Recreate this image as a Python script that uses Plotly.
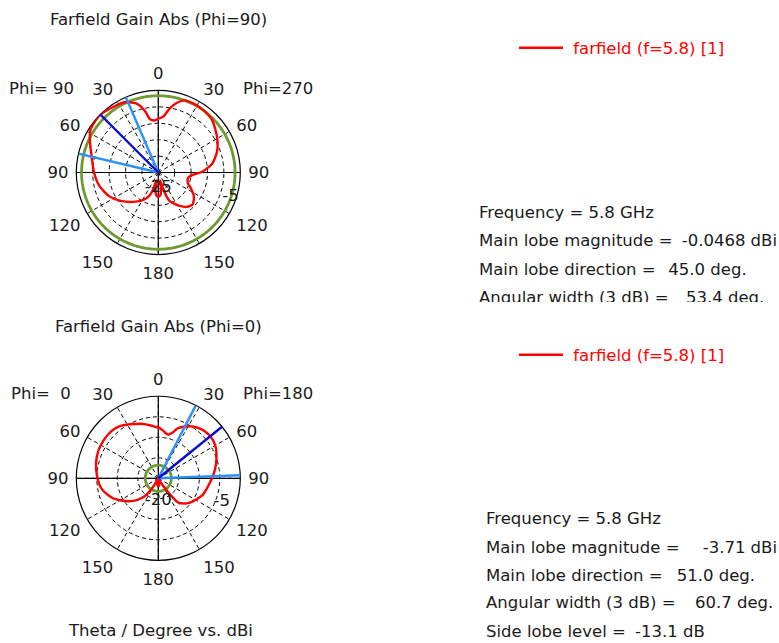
import numpy as np
import plotly.graph_objects as go

# ---------------- data ----------------
# Plot angle (deg, clockwise from top). Right half = theta on the right-hand phi cut,
# left half = 360 - theta on the left-hand phi cut.
top_theta = [0, 5, 10, 15, 20, 28, 35, 40, 45, 53, 63, 71, 81, 89, 94, 101, 110, 116, 124, 133,
             141, 150, 155, 158, 161, 164, 167, 171, 175, 180, 185, 189, 193, 197, 201, 208, 220,
             233, 244, 257, 270, 282, 294, 302, 310, 315, 325, 335, 343, 348, 351, 356, 360]
top_gain = [-8.6, -7.9, -5.2, -3.0, -1.6, -1.4, -1.5, -1.7, -2.0, -3.2, -4.7, -6.1, -8.4, -11.6,
            -14.5, -15.8, -15.4, -13.9, -11.9, -10.7, -11.5, -13.5, -14.8, -15.5, -17.3, -20.5,
            -22.5, -19.5, -18.0, -17.6, -18.0, -19.5, -22.5, -19.5, -17.5, -15.6, -13.3, -10.6,
            -8.4, -6.6, -5.4, -4.3, -2.2, -0.6, -0.15, -0.05, -0.7, -1.3, -3.1, -6.0, -8.5, -9.1,
            -8.6]

bot_theta = [0, 5, 10, 13, 17, 21, 26, 33, 40, 45, 51, 57, 63, 70, 75, 80, 85, 90, 99, 105, 110,
             118, 125, 131, 136, 140, 143, 146, 150, 155, 165, 172, 180, 188, 195, 205, 210, 213,
             217, 224, 232, 239, 245, 251, 256, 262, 271, 283, 295, 305, 312, 319, 325, 330, 336,
             342, 347, 351, 356, 360]
bot_gain = [-7.6, -8.2, -8.9, -9.1, -8.4, -7.0, -6.0, -4.9, -4.2, -3.85, -3.71, -3.8, -4.2, -4.9,
            -5.4, -5.9, -6.4, -6.9, -7.7, -8.1, -8.4, -9.3, -10.0, -10.7, -11.5, -12.2, -14.2,
            -17.0, -19.5, -20.0, -19.3, -18.4, -18.0, -18.4, -19.3, -20.0, -19.0, -16.5, -14.5,
            -12.7, -10.9, -9.5, -8.2, -7.2, -6.4, -5.7, -5.1, -4.4, -3.9, -3.75, -3.75, -3.9,
            -4.3, -4.9, -5.5, -6.0, -6.5, -6.9, -7.4, -7.6]

# scale (dBi): centre value, rim value, ring values
top_range = [-25, 0]
bot_range = [-20, 0]
top_rings = [-20, -15, -10, -5]
bot_rings = [-15, -10, -5]

# main lobe / 3 dB / side lobe markers (plot angles, dBi)
top_main_dir = 315          # theta 45 on the Phi=90 side
top_3db_dirs = [283.3, 336.7]
top_sidelobe = -1.6
bot_main_dir = 51.0
bot_3db_dirs = [27.2, 87.9]
bot_sidelobe = -3.71 - 13.1

angle_ticks = [0, 30, 60, 90, 120, 150, 180, 210, 240, 270, 300, 330]
angle_labels = ["0", "30", "60", "90", "120", "150", "180", "150", "120", "90", "60", "30"]

top_info = ["Frequency = 5.8 GHz", "Main lobe magnitude =", "Main lobe direction =",
            "Angular width (3 dB) ="]
top_vals = ["", "-0.0468 dBi", "45.0 deg.", "53.4 deg."]
bot_info = ["Frequency = 5.8 GHz", "Main lobe magnitude =", "Main lobe direction =",
            "Angular width (3 dB) =", "Side lobe level ="]
bot_vals = ["", "-3.71 dBi", "51.0 deg.", "60.7 deg.", "-13.1 dB"]

legend_name = "\u00a0farfield (f=5.8) [1]"

# ---------------- styling ----------------
W, H = 779, 643
FONT = "DejaVu Sans"
FS = 16.5
TXT = "#1a1a1a"
RED = "#ff0000"
GREEN = "#6f9a2f"
BLUE = "#0a0ad2"
LBLUE = "#2a90ff"

def px(x):
    return x / W

def py(y):
    return 1 - y / H

fig = go.Figure()

def add_polar(sub, theta, gain, rng, main_dir, db3, side, legend):
    lo, hi = rng
    # solid cross axes
    fig.add_trace(go.Scatterpolar(r=[hi, lo, hi, None, hi, lo, hi],
                                  theta=[0, 0, 180, None, 90, 90, 270],
                                  mode="lines", line=dict(color="black", width=1.2),
                                  subplot=sub, showlegend=False, hoverinfo="skip"))
    # side lobe level circle
    circ = np.linspace(0, 360, 361)
    fig.add_trace(go.Scatterpolar(r=[side] * len(circ), theta=circ, mode="lines",
                                  line=dict(color=GREEN, width=2.8), subplot=sub,
                                  showlegend=False, hoverinfo="skip"))
    # pattern
    fig.add_trace(go.Scatterpolar(r=gain, theta=theta, mode="lines",
                                  line=dict(color=RED, width=2.4, shape="spline", smoothing=0.6),
                                  subplot=sub, name=legend_name, legend=legend, showlegend=True))
    # 3 dB lines
    for d in db3:
        fig.add_trace(go.Scatterpolar(r=[lo, hi], theta=[d, d], mode="lines",
                                      line=dict(color=LBLUE, width=2.4), subplot=sub,
                                      showlegend=False, hoverinfo="skip"))
    # main lobe line
    fig.add_trace(go.Scatterpolar(r=[lo, hi], theta=[main_dir, main_dir], mode="lines",
                                  line=dict(color=BLUE, width=2.4), subplot=sub,
                                  showlegend=False, hoverinfo="skip"))

add_polar("polar", top_theta, top_gain, top_range, top_main_dir, top_3db_dirs, top_sidelobe, "legend")
add_polar("polar2", bot_theta, bot_gain, bot_range, bot_main_dir, bot_3db_dirs, bot_sidelobe, "legend2")

# ring labels (label placement positions in the polar frame)
def ring_label(sub, text, r, th):
    fig.add_trace(go.Scatterpolar(r=[r], theta=[th], mode="text", text=[text],
                                  textposition="middle center", subplot=sub,
                                  textfont=dict(family=FONT, size=FS, color=TXT),
                                  showlegend=False, hoverinfo="skip"))

ring_label("polar", "-5", -1.8, 108.4)
ring_label("polar", str(top_range[0]), -20.4, 180)
ring_label("polar2", "-5", -3.5, 110.3)
ring_label("polar2", str(bot_range[0]), -14.6, 180)

# info text blocks (cartesian text subplots, clipped like the original)
top_y = [214, 242, 270.5, 299]
top_vx = [0, 681.7, 668.3, 686]
bot_y = [520.3, 548.7, 577, 604.3, 633]
bot_vx = [0, 702.7, 676.7, 695, 635]

fig.add_trace(go.Scatter(x=[479] * len(top_info), y=top_y, text=top_info, mode="text",
                         textposition="middle right", cliponaxis=True, xaxis="x", yaxis="y",
                         textfont=dict(family=FONT, size=FS, color=TXT),
                         showlegend=False, hoverinfo="skip"))
fig.add_trace(go.Scatter(x=top_vx[1:], y=top_y[1:], text=top_vals[1:],
                         mode="text", textposition="middle right", cliponaxis=True,
                         xaxis="x", yaxis="y", textfont=dict(family=FONT, size=FS, color=TXT),
                         showlegend=False, hoverinfo="skip"))
fig.add_trace(go.Scatter(x=[486] * len(bot_info), y=bot_y, text=bot_info, mode="text",
                         textposition="middle right", cliponaxis=True, xaxis="x2", yaxis="y2",
                         textfont=dict(family=FONT, size=FS, color=TXT),
                         showlegend=False, hoverinfo="skip"))
fig.add_trace(go.Scatter(x=bot_vx[1:], y=bot_y[1:], text=bot_vals[1:],
                         mode="text", textposition="middle right", cliponaxis=True,
                         xaxis="x2", yaxis="y2", textfont=dict(family=FONT, size=FS, color=TXT),
                         showlegend=False, hoverinfo="skip"))

def polar_layout(cy, rng, rings):
    r = 82
    cx = 158.3
    return dict(
        domain=dict(x=[px(cx - r), px(cx + r)], y=[py(cy + r), py(cy - r)]),
        bgcolor="white",
        angularaxis=dict(rotation=90, direction="clockwise", tickvals=angle_ticks,
                         ticktext=angle_labels, tickfont=dict(family=FONT, size=FS, color=TXT),
                         showline=True, linecolor="black", linewidth=1.2,
                         showgrid=True, gridcolor="black", gridwidth=1, griddash="4px,3px",
                         ticks="outside", ticklen=4, tickcolor="rgba(0,0,0,0)",
                         layer="below traces"),
        radialaxis=dict(range=rng, tickvals=rings, showticklabels=False, ticks="",
                        showline=False, showgrid=True, gridcolor="black", gridwidth=1,
                        griddash="4px,3px", layer="below traces"),
    )

fig.update_layout(
    width=W, height=H, autosize=False,
    margin=dict(l=0, r=0, t=0, b=0),
    paper_bgcolor="white", plot_bgcolor="white",
    font=dict(family=FONT, size=FS, color=TXT),
    polar=polar_layout(172.5, top_range, top_rings),
    polar2=polar_layout(478.3, bot_range, bot_rings),
    xaxis=dict(domain=[px(460), 1], range=[460, 779], visible=False),
    yaxis=dict(domain=[py(302), py(190)], range=[302, 190], visible=False),
    xaxis2=dict(domain=[px(460), 1], range=[460, 779], visible=False),
    yaxis2=dict(domain=[py(643), py(500)], range=[643, 500], visible=False),
    legend=dict(x=px(514), y=py(48), xanchor="left", yanchor="middle",
                font=dict(family=FONT, size=FS, color=RED), bgcolor="rgba(0,0,0,0)",
                itemwidth=44),
    legend2=dict(x=px(514), y=py(355), xanchor="left", yanchor="middle",
                 font=dict(family=FONT, size=FS, color=RED), bgcolor="rgba(0,0,0,0)",
                 itemwidth=44),
    annotations=[
        dict(text="Farfield Gain Abs (Phi=90)", x=px(158), y=py(20), xref="paper", yref="paper",
             showarrow=False, xanchor="center", yanchor="middle"),
        dict(text="Phi=\u00a090", x=px(7), y=py(88), xref="paper", yref="paper",
             showarrow=False, xanchor="left", yanchor="middle"),
        dict(text="Phi=270", x=px(241), y=py(88), xref="paper", yref="paper",
             showarrow=False, xanchor="left", yanchor="middle"),
        dict(text="Farfield Gain Abs (Phi=0)", x=px(158), y=py(326), xref="paper", yref="paper",
             showarrow=False, xanchor="center", yanchor="middle"),
        dict(text="Phi=\u00a0\u00a00", x=px(9), y=py(393), xref="paper", yref="paper",
             showarrow=False, xanchor="left", yanchor="middle"),
        dict(text="Phi=180", x=px(241), y=py(393), xref="paper", yref="paper",
             showarrow=False, xanchor="left", yanchor="middle"),
        dict(text="Theta / Degree vs. dBi", x=px(160), y=py(630), xref="paper", yref="paper",
             showarrow=False, xanchor="center", yanchor="middle"),
    ],
)

fig.write_html("out.html", config={"displayModeBar": False},
               post_script="document.body.style.margin='0px';")
